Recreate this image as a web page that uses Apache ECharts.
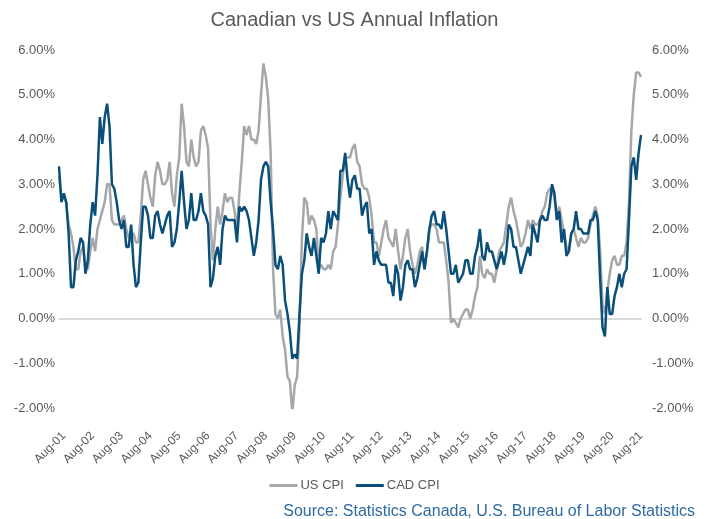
<!DOCTYPE html>
<html>
<head>
<meta charset="utf-8">
<title>Canadian vs US Annual Inflation</title>
<script src="https://cdn.jsdelivr.net/npm/echarts@6/dist/echarts.min.js"></script>
<style>
  html, body { margin: 0; padding: 0; background: #fff; }
  #chart { width: 709px; height: 519px; }
</style>
</head>
<body>
<div id="chart"></div>
<script>
// monthly series, Jun-01 .. Aug-21
const startYear = 2001;
const startMonth = 5; // June (0-based)
const monthNames = ['Jan', 'Feb', 'Mar', 'Apr', 'May', 'Jun', 'Jul', 'Aug', 'Sep', 'Oct', 'Nov', 'Dec'];

const usCpi = [
  3.2, 2.7, 2.7, 2.6, 2.1, 1.9, 1.6,
  1.1, 1.1, 1.5, 1.6, 1.2, 1.1, 1.5, 1.8, 1.5, 2.0, 2.2, 2.4,
  2.6, 3.0, 3.0, 2.2, 2.1, 2.1, 2.1, 2.2, 2.3, 2.0, 1.8, 1.9,
  1.9, 1.7, 1.7, 2.3, 3.1, 3.3, 3.0, 2.7, 2.5, 3.2, 3.5, 3.3,
  3.0, 3.0, 3.1, 3.5, 2.8, 2.5, 3.2, 3.6, 4.8, 4.3, 3.5, 3.4,
  4.0, 3.6, 3.4, 3.5, 4.2, 4.3, 4.1, 3.8, 2.1, 1.3, 2.0, 2.5,
  2.1, 2.4, 2.8, 2.6, 2.7, 2.7, 2.4, 2.0, 2.8, 3.5, 4.3, 4.1,
  4.3, 4.0, 4.0, 3.9, 4.2, 5.0, 5.7, 5.4, 4.9, 3.7, 1.1, 0.1,
  0.0, 0.2, -0.4, -0.7, -1.3, -1.4, -2.1, -1.5, -1.3, -0.2, 1.8, 2.7,
  2.6, 2.1, 2.3, 2.2, 2.0, 1.1, 1.2, 1.1, 1.1, 1.2, 1.1, 1.5,
  1.6, 2.1, 2.7, 3.2, 3.6, 3.6, 3.6, 3.8, 3.9, 3.5, 3.4, 3.0,
  2.9, 2.9, 2.7, 2.3, 1.7, 1.7, 1.4, 1.7, 2.0, 2.2, 1.8, 1.7,
  1.6, 2.0, 1.5, 1.1, 1.4, 1.8, 2.0, 1.5, 1.2, 1.0, 1.2, 1.5,
  1.6, 1.1, 1.5, 2.0, 2.1, 2.1, 2.0, 1.7, 1.7, 1.7, 1.3, 0.8,
  -0.1, 0.0, -0.1, -0.2, 0.0, 0.1, 0.2, 0.2, 0.0, 0.2, 0.5, 0.7,
  1.4, 1.0, 0.9, 1.1, 1.0, 1.0, 0.8, 1.1, 1.5, 1.6, 1.7, 2.1,
  2.5, 2.7, 2.4, 2.2, 1.9, 1.6, 1.7, 1.9, 2.2, 2.0, 2.2, 2.1,
  2.1, 2.2, 2.4, 2.5, 2.8, 2.9, 2.9, 2.7, 2.3, 2.5, 2.2, 1.9,
  1.6, 1.5, 1.9, 2.0, 1.8, 1.6, 1.8, 1.7, 1.7, 1.8, 2.1, 2.3,
  2.5, 2.3, 1.5, 0.3, 0.1, 0.6, 1.0, 1.3, 1.4, 1.2, 1.2, 1.4,
  1.4, 1.7, 2.6, 4.2, 5.0, 5.5, 5.5, 5.4
];

const cadCpi = [
  3.4, 2.6, 2.8, 2.6, 1.9, 0.7, 0.7,
  1.3, 1.5, 1.8, 1.7, 1.0, 1.3, 2.1, 2.6, 2.3, 3.2, 4.5, 3.9,
  4.5, 4.8, 4.3, 3.0, 2.9, 2.6, 2.2, 2.0, 2.2, 1.6, 1.6, 2.1,
  1.2, 0.7, 0.8, 1.7, 2.5, 2.5, 2.3, 1.8, 1.8, 2.3, 2.4, 2.1,
  1.9, 2.1, 2.3, 2.4, 1.6, 1.7, 2.0, 2.6, 3.3, 2.6, 2.0, 2.2,
  2.8, 2.2, 2.2, 2.4, 2.8, 2.4, 2.3, 2.1, 0.7, 0.9, 1.4, 1.6,
  1.2, 2.0, 2.3, 2.2, 2.2, 2.2, 2.2, 1.7, 2.5, 2.4, 2.5, 2.4,
  2.2, 1.8, 1.4, 1.7, 2.2, 3.1, 3.4, 3.5, 3.4, 2.6, 2.0, 1.2,
  1.1, 1.4, 1.2, 0.4, 0.1, -0.3, -0.9, -0.8, -0.9, 0.1, 1.0, 1.3,
  1.9, 1.6, 1.4, 1.8, 1.4, 1.0, 1.8, 1.7, 1.9, 2.4, 2.0, 2.4,
  2.3, 2.2, 3.3, 3.3, 3.7, 3.1, 2.7, 3.1, 3.2, 2.9, 2.9, 2.3,
  2.5, 2.6, 1.9, 2.0, 1.2, 1.5, 1.3, 1.2, 1.2, 1.2, 0.8, 0.8,
  0.5, 1.2, 1.0, 0.4, 0.7, 1.2, 1.3, 1.1, 1.1, 0.7, 0.9, 1.2,
  1.5, 1.1, 1.5, 2.0, 2.3, 2.4, 2.1, 2.1, 2.0, 2.4, 2.0, 1.5,
  1.0, 1.0, 1.2, 0.8, 0.9, 1.0, 1.3, 1.3, 1.0, 1.0, 1.4, 1.6,
  2.0, 1.4, 1.3, 1.7, 1.5, 1.5, 1.3, 1.1, 1.3, 1.5, 1.2, 1.5,
  2.1, 2.0, 1.6, 1.6, 1.3, 1.0, 1.2, 1.4, 1.6, 1.4, 2.1, 1.9,
  1.7, 2.2, 2.3, 2.2, 2.2, 2.5, 3.0, 2.8, 2.2, 2.4, 1.7, 2.0,
  1.4, 1.5, 1.9, 2.0, 2.4, 2.0, 2.0, 1.9, 1.9, 1.9, 2.2, 2.2,
  2.4, 2.2, 0.9, -0.2, -0.4, 0.7, 0.1, 0.1, 0.5, 0.7, 1.0, 0.7,
  1.0, 1.1, 2.2, 3.4, 3.6, 3.1, 3.7, 4.1
];

const months = usCpi.map((_, i) => {
  const m = startMonth + i;
  const yy = (startYear + Math.floor(m / 12)) % 100;
  return monthNames[m % 12] + '-' + String(yy).padStart(2, '0');
});

const yTicks = { min: -2, max: 6, interval: 1 };
const textColor = '#595959';
const fontFamily = "'Liberation Sans', Arial, sans-serif";

const chart = echarts.init(document.getElementById('chart'));

const pct = v => v.toFixed(2) + '%';

chart.setOption({
  animation: false,
  textStyle: { fontFamily: fontFamily },
  title: {
    text: 'Canadian vs US Annual Inflation',
    left: 'center',
    top: 5,
    textStyle: { fontSize: 20, fontWeight: 'normal', color: textColor, fontFamily: fontFamily }
  },
  legend: {
    data: ['US CPI', 'CAD CPI'],
    bottom: 22,
    left: 'center',
    icon: 'rect',
    itemWidth: 28,
    itemHeight: 3,
    itemGap: 12,
    textStyle: { fontSize: 13, color: textColor, padding: [0, 0, 0, -2] }
  },
  grid: { left: 59, right: 68, top: 50, bottom: 111 },
  xAxis: [
    {
      type: 'category',
      data: months,
      boundaryGap: false,
      axisLine: { show: false, onZero: false },
      axisTick: { show: false },
      axisLabel: {
        interval: (idx, val) => val.indexOf('Aug') === 0,
        rotate: 45,
        margin: 26,
        fontSize: 12,
        color: textColor
      },
      splitLine: { show: false }
    },
    {
      // zero line
      type: 'category',
      data: months,
      position: 'bottom',
      boundaryGap: false,
      axisLine: { show: true, onZero: true, onZeroAxisIndex: 0, lineStyle: { color: '#d9d9d9', width: 2 } },
      axisTick: { show: false },
      axisLabel: { show: false },
      splitLine: { show: false }
    }
  ],
  yAxis: [
    {
      type: 'value',
      min: yTicks.min, max: yTicks.max, interval: yTicks.interval,
      position: 'left',
      axisLine: { show: false },
      axisTick: { show: false },
      splitLine: { show: false },
      axisLabel: { formatter: pct, fontSize: 13, color: textColor, margin: 4 }
    },
    {
      type: 'value',
      min: yTicks.min, max: yTicks.max, interval: yTicks.interval,
      position: 'right',
      axisLine: { show: false },
      axisTick: { show: false },
      splitLine: { show: false },
      axisLabel: { formatter: pct, fontSize: 13, color: textColor, margin: 11 }
    }
  ],
  series: [
    {
      name: 'US CPI',
      type: 'line',
      data: usCpi,
      symbol: 'none',
      color: '#a5a7aa',
      lineStyle: { width: 2.5, color: '#a5a7aa' }
    },
    {
      name: 'CAD CPI',
      type: 'line',
      data: cadCpi,
      symbol: 'none',
      color: '#0a4f7a',
      lineStyle: { width: 2.5, color: '#0a4f7a' }
    }
  ],
  graphic: [
    {
      type: 'text',
      right: 14,
      top: 504,
      style: {
        text: 'Source: Statistics Canada, U.S. Bureau of Labor Statistics',
        fill: '#2f6aa3',
        font: '16px ' + fontFamily
      }
    }
  ]
});
</script>
</body>
</html>
